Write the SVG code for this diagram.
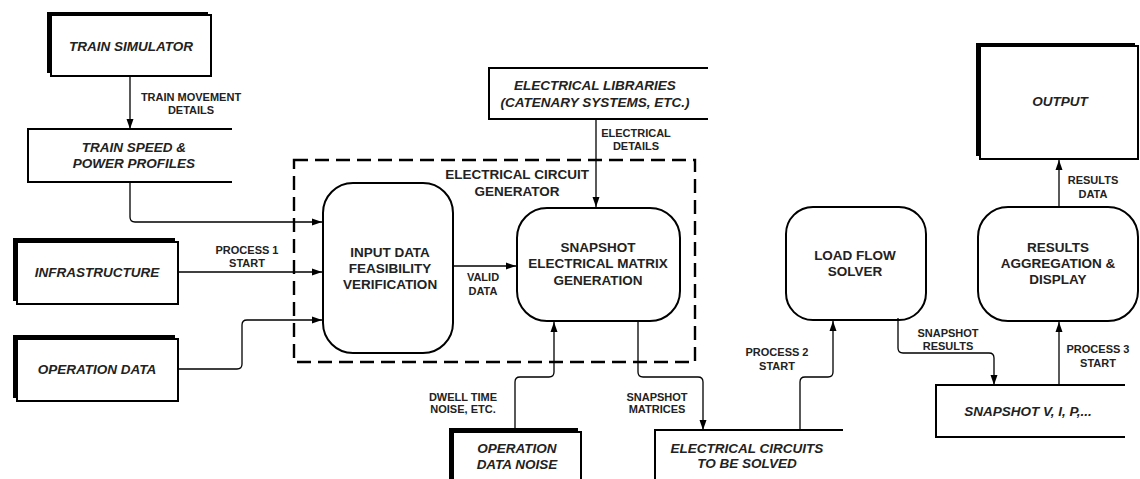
<svg xmlns="http://www.w3.org/2000/svg" width="1140" height="479" viewBox="0 0 1140 479">
  <defs>
    <marker id="ah" markerWidth="10" markerHeight="8" refX="10" refY="4" orient="auto" markerUnits="userSpaceOnUse">
      <path d="M0,0.5 L10,4 L0,7.5 z" fill="#000"/>
    </marker>
    <style>
      .box{fill:#fff;stroke:#000;stroke-width:2}
      .shadow{fill:#000}
      .store{fill:none;stroke:#000;stroke-width:2}
      .proc{fill:#fff;stroke:#000;stroke-width:2}
      .conn{fill:none;stroke:#000;stroke-width:1.3}
      .group{fill:none;stroke:#000;stroke-width:2.4;stroke-dasharray:14 7}
      text{font-family:"Liberation Sans",Arial,sans-serif;font-weight:bold;text-anchor:middle;fill:#222}
      .nl{font-size:13.5px}
      .it{font-style:italic}
      .cl{font-size:11px}
    </style>
  </defs>
  <rect width="1140" height="479" fill="#fff"/>

  <!-- electrical circuit generator boundary -->
  <g id="circuit-generator">
    <rect class="group" x="294" y="160" width="401" height="202"/>
    <text class="nl" x="517" y="179">ELECTRICAL CIRCUIT</text>
    <text class="nl" x="517" y="196">GENERATOR</text>
  </g>

  <!-- external sources -->
  <g id="train-simulator">
    <rect class="shadow" x="47" y="12" width="161" height="61"/>
    <rect class="box" x="51" y="15" width="160" height="61"/>
    <text class="nl it" x="131" y="51">TRAIN SIMULATOR</text>
  </g>
  <g id="infrastructure">
    <rect class="shadow" x="13" y="238" width="162" height="63"/>
    <rect class="box" x="17" y="242" width="161" height="62"/>
    <text class="nl it" x="97" y="277">INFRASTRUCTURE</text>
  </g>
  <g id="operation-data">
    <rect class="shadow" x="13" y="335" width="162" height="63"/>
    <rect class="box" x="17" y="339" width="161" height="62"/>
    <text class="nl it" x="97" y="374">OPERATION DATA</text>
  </g>
  <g id="operation-data-noise">
    <rect class="shadow" x="449" y="428" width="129" height="60"/>
    <rect class="box" x="453" y="432" width="128" height="60"/>
    <text class="nl it" x="517" y="453">OPERATION</text>
    <text class="nl it" x="517" y="469">DATA NOISE</text>
  </g>
  <g id="output">
    <rect class="shadow" x="976" y="43" width="159" height="113"/>
    <rect class="box" x="980" y="46" width="158" height="113"/>
    <text class="nl it" x="1060" y="106">OUTPUT</text>
  </g>

  <!-- data stores -->
  <g id="train-speed-profiles">
    <path class="store" d="M232,129 H28 V182 H232"/>
    <text class="nl it" x="134" y="152">TRAIN SPEED &amp;</text>
    <text class="nl it" x="134" y="168">POWER PROFILES</text>
  </g>
  <g id="electrical-libraries">
    <path class="store" d="M708,68 H489 V119 H708"/>
    <text class="nl it" x="595" y="90">ELECTRICAL LIBRARIES</text>
    <text class="nl it" x="595" y="107">(CATENARY SYSTEMS, ETC.)</text>
  </g>
  <g id="electrical-circuits">
    <path class="store" d="M843,430 H655 V490"/>
    <text class="nl it" x="747" y="453">ELECTRICAL CIRCUITS</text>
    <text class="nl it" x="747" y="468">TO BE SOLVED</text>
  </g>
  <g id="snapshot-vip">
    <path class="store" d="M1125,385 H936 V437 H1125"/>
    <text class="nl it" x="1028" y="416">SNAPSHOT V, I, P,...</text>
  </g>

  <!-- processes -->
  <g id="input-verification">
    <rect class="proc" x="323" y="183" width="130" height="170" rx="30"/>
    <text class="nl" x="390" y="257">INPUT DATA</text>
    <text class="nl" x="390" y="273">FEASIBILITY</text>
    <text class="nl" x="390" y="289">VERIFICATION</text>
  </g>
  <g id="matrix-generation">
    <rect class="proc" x="517" y="208" width="163" height="113" rx="30"/>
    <text class="nl" x="598" y="252">SNAPSHOT</text>
    <text class="nl" x="598" y="268">ELECTRICAL MATRIX</text>
    <text class="nl" x="598" y="285">GENERATION</text>
  </g>
  <g id="load-flow-solver">
    <rect class="proc" x="786" y="207" width="140" height="113" rx="27"/>
    <text class="nl" x="855" y="260">LOAD FLOW</text>
    <text class="nl" x="855" y="276">SOLVER</text>
  </g>
  <g id="results-aggregation">
    <rect class="proc" x="978" y="207" width="160" height="114" rx="30"/>
    <text class="nl" x="1058" y="252">RESULTS</text>
    <text class="nl" x="1058" y="268">AGGREGATION &amp;</text>
    <text class="nl" x="1058" y="284">DISPLAY</text>
  </g>

  <!-- connectors -->
  <g id="connectors">
    <path class="conn" marker-end="url(#ah)" d="M130,77 V129"/>
    <path class="conn" marker-end="url(#ah)" d="M130,182 V217 Q130,222 135,222 H322"/>
    <path class="conn" marker-end="url(#ah)" d="M178,272 H322"/>
    <path class="conn" marker-end="url(#ah)" d="M178,369 H237 Q242,369 242,364 V325 Q242,320 247,320 H322"/>
    <path class="conn" marker-end="url(#ah)" d="M453,266 H516"/>
    <path class="conn" marker-end="url(#ah)" d="M596,119 V207"/>
    <path class="conn" marker-end="url(#ah)" d="M515,428 V382 Q515,377 520,377 H549 Q554,377 554,372 V322"/>
    <path class="conn" marker-end="url(#ah)" d="M638,321 V372 Q638,377 643,377 H698 Q703,377 703,382 V430"/>
    <path class="conn" marker-end="url(#ah)" d="M800,430 V382 Q800,377 805,377 H828 Q833,377 833,372 V321"/>
    <path class="conn" marker-end="url(#ah)" d="M898,318 V348 Q898,353 903,353 H989 Q994,353 994,358 V385"/>
    <path class="conn" marker-end="url(#ah)" d="M1059,385 V322"/>
    <path class="conn" marker-end="url(#ah)" d="M1059,207 V160"/>

    <text class="cl" x="191" y="101">TRAIN MOVEMENT</text>
    <text class="cl" x="191" y="114">DETAILS</text>
    <text class="cl" x="247" y="254">PROCESS 1</text>
    <text class="cl" x="247" y="267">START</text>
    <text class="cl" x="483" y="281">VALID</text>
    <text class="cl" x="483" y="295">DATA</text>
    <text class="cl" x="636" y="137">ELECTRICAL</text>
    <text class="cl" x="636" y="150">DETAILS</text>
    <text class="cl" x="463" y="401">DWELL TIME</text>
    <text class="cl" x="463" y="413">NOISE, ETC.</text>
    <text class="cl" x="657" y="401">SNAPSHOT</text>
    <text class="cl" x="657" y="413">MATRICES</text>
    <text class="cl" x="777" y="356">PROCESS 2</text>
    <text class="cl" x="777" y="370">START</text>
    <text class="cl" x="948" y="337">SNAPSHOT</text>
    <text class="cl" x="948" y="350">RESULTS</text>
    <text class="cl" x="1098" y="353">PROCESS 3</text>
    <text class="cl" x="1098" y="367">START</text>
    <text class="cl" x="1093" y="184">RESULTS</text>
    <text class="cl" x="1093" y="198">DATA</text>
  </g>
</svg>
